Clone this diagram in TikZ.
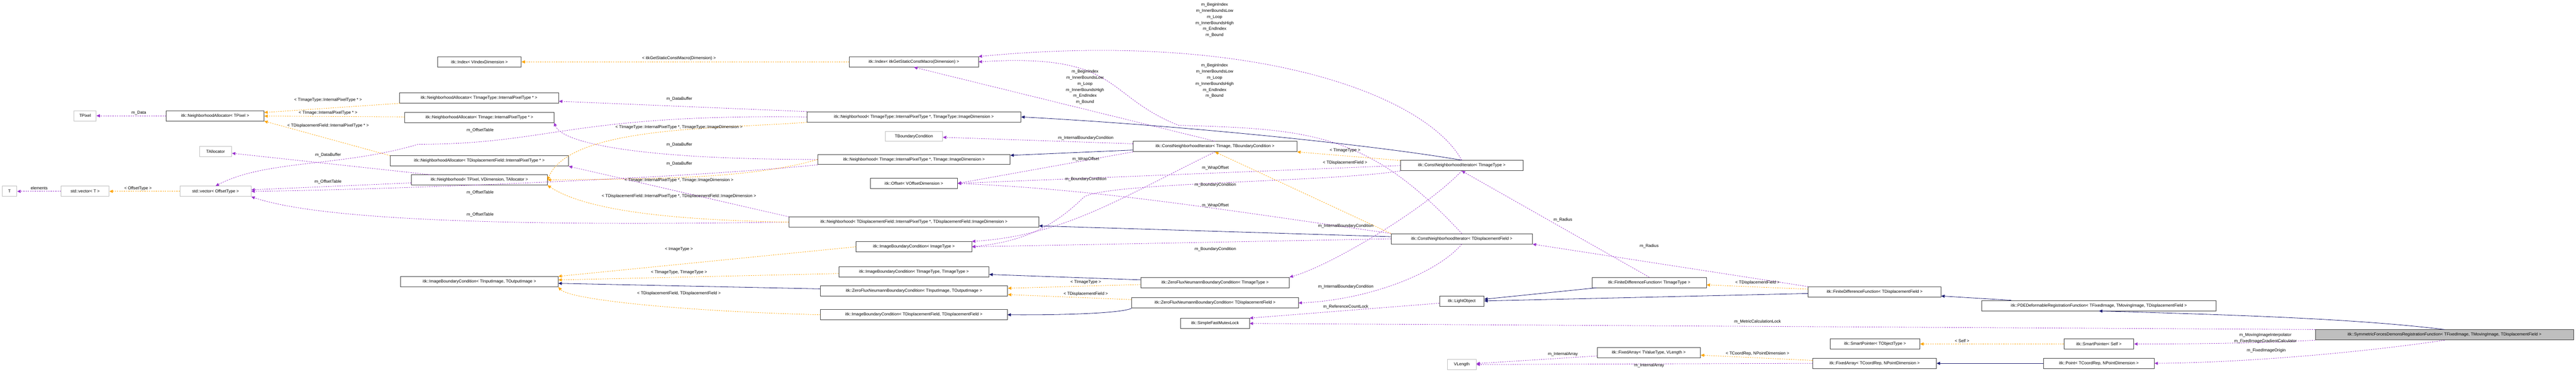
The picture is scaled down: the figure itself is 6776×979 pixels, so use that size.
\documentclass[tikz,border=0pt]{standalone}
\usepackage{fontspec}
\setmainfont{Liberation Sans}
\usetikzlibrary{arrows.meta}
\definecolor{mem}{RGB}{154,50,205}
\definecolor{tpl}{RGB}{255,165,0}
\definecolor{inh}{RGB}{25,25,112}
\begin{document}
\begin{tikzpicture}[x=1pt,y=-1pt,
  font=\fontsize{11}{13}\selectfont,
  box/.style={draw=black!75,line width=1.2pt,fill=white,minimum height=27pt,inner sep=2pt},
  ext/.style={draw=black!25,line width=1.2pt,fill=white,minimum height=27pt,inner sep=2pt},
  main/.style={draw=black!75,line width=1.2pt,fill=black!25,minimum height=27pt,inner sep=2pt},
  mem/.style={draw=mem,dashed,line width=1.1pt,-{Triangle[length=9pt,width=8pt]}},
  tpl/.style={draw=tpl,dashed,line width=1.1pt,-{Triangle[length=9pt,width=8pt]}},
  inh/.style={draw=inh,line width=1.1pt,-{Triangle[length=9pt,width=8pt]}},
  lab/.style={inner sep=0pt,align=center,font=\fontsize{11}{16}\selectfont}]
\useasboundingbox[fill=white] (0,0) rectangle (6776,979);
% nodes
\node[ext,minimum width=58pt] (TPixel) at (224,305) {TPixel};
\node[ext,minimum width=39pt] (T) at (25,504) {T};
\node[ext,minimum width=126pt] (vecT) at (224,504) {std::vector< T >};
\node[ext,minimum width=187pt] (vecO) at (567,504) {std::vector< OffsetType >};
\node[box,minimum width=257pt] (NAT) at (566,305) {itk::NeighborhoodAllocator< TPixel >};
\node[ext,minimum width=85pt] (TAlloc) at (567,399) {TAllocator};
\node[box,minimum width=419pt] (NAimgT) at (1260,258) {itk::NeighborhoodAllocator< TImageType::InternalPixelType * >};
\node[box,minimum width=392pt] (NAimg) at (1261,309) {itk::NeighborhoodAllocator< TImage::InternalPixelType * >};
\node[box,minimum width=469pt] (NAdisp) at (1261,424) {itk::NeighborhoodAllocator< TDisplacementField::InternalPixelType * >};
\node[box,minimum width=357pt] (NBT) at (1261,474) {itk::Neighborhood< TPixel, VDimension, TAllocator >};
\node[box,minimum width=220pt] (IdxV) at (1261,163) {itk::Index< VIndexDimension >};
\node[box,minimum width=414pt] (IBCIO) at (1261,742) {itk::ImageBoundaryCondition< TInputImage, TOutputImage >};
\node[box,minimum width=339pt] (IdxD) at (2404,163) {itk::Index< itkGetStaticConstMacro(Dimension) >};
\node[box,minimum width=563pt] (NBimgT) at (2404,308) {itk::Neighborhood< TImageType::InternalPixelType *, TImageType::ImageDimension >};
\node[ext,minimum width=151pt] (TBC) at (2404,359) {TBoundaryCondition};
\node[box,minimum width=506pt] (NBimg) at (2404,420) {itk::Neighborhood< TImage::InternalPixelType *, TImage::ImageDimension >};
\node[box,minimum width=229pt] (Off) at (2404,483) {itk::Offset< VOffsetDimension >};
\node[box,minimum width=657pt] (NBdisp) at (2404,585) {itk::Neighborhood< TDisplacementField::InternalPixelType *, TDisplacementField::ImageDimension >};
\node[box,minimum width=304pt] (IBCI) at (2404,650) {itk::ImageBoundaryCondition< ImageType >};
\node[box,minimum width=395pt] (IBCTT) at (2404,716) {itk::ImageBoundaryCondition< TImageType, TImageType >};
\node[box,minimum width=493pt] (ZFIO) at (2404,766) {itk::ZeroFluxNeumannBoundaryCondition< TInputImage, TOutputImage >};
\node[box,minimum width=491pt] (IBCDD) at (2404,829) {itk::ImageBoundaryCondition< TDisplacementField, TDisplacementField >};
\node[box,minimum width=431pt] (CNITB) at (3196,386) {itk::ConstNeighborhoodIterator< TImage, TBoundaryCondition >};
\node[box,minimum width=391pt] (ZFTT) at (3196,744) {itk::ZeroFluxNeumannBoundaryCondition< TImageType >};
\node[box,minimum width=438pt] (ZFD) at (3196,798) {itk::ZeroFluxNeumannBoundaryCondition< TDisplacementField >};
\node[box,minimum width=181pt] (Mutex) at (3196,852) {itk::SimpleFastMutexLock};
\node[box,minimum width=322pt] (CNITT) at (3845,436) {itk::ConstNeighborhoodIterator< TImageType >};
\node[box,minimum width=372pt] (CNID) at (3845,629) {itk::ConstNeighborhoodIterator< TDisplacementField >};
\node[box,minimum width=117pt] (LObj) at (3845,794) {itk::LightObject};
\node[ext,minimum width=76pt] (VLen) at (3845,960) {VLength};
\node[box,minimum width=301pt] (FDFT) at (4338,744) {itk::FiniteDifferenceFunction< TImageType >};
\node[box,minimum width=272pt] (FATV) at (4337,929) {itk::FixedArray< TValueType, VLength >};
\node[box,minimum width=349pt] (FDFD) at (4931,769) {itk::FiniteDifferenceFunction< TDisplacementField >};
\node[box,minimum width=236pt] (SPT) at (4932,906) {itk::SmartPointer< TObjectType >};
\node[box,minimum width=325pt] (FACP) at (4931,957) {itk::FixedArray< TCoordRep, NPointDimension >};
\node[box,minimum width=616pt] (PDE) at (5521,805) {itk::PDEDeformableRegistrationFunction< TFixedImage, TMovingImage, TDisplacementField >};
\node[box,minimum width=184pt] (SPS) at (5521,906) {itk::SmartPointer< Self >};
\node[box,minimum width=291pt] (Pt) at (5521,957) {itk::Point< TCoordRep, NPointDimension >};
\node[main,minimum width=679pt] (Sym) at (6430,882) {itk::SymmetricForcesDemonsRegistrationFunction< TFixedImage, TMovingImage, TDisplacementField >};
% member edges
\draw[mem] (vecT) -- (T);
\draw[mem] (NAT) -- (TPixel);
\draw[mem] (NBT) -- (TAlloc);
\draw[mem] (NBimgT.north west) -- (NAimgT);
\draw[mem] (NBimg.west) .. controls (1700,420) and (1480,380) .. (NAimg.south east);
\draw[mem] (NBdisp.north west) -- (NAdisp.south east);
\draw[mem] (NBT) -- (vecO);
\draw[mem] (NBimgT.west) .. controls (1500,300) and (1450,380) .. (1100,380) .. controls (900,440) and (700,420) .. (vecO.north);
\draw[mem] (NBimg.south west) .. controls (1800,470) and (1000,500) .. (vecO.east);
\draw[mem] (NBdisp.west) .. controls (1700,590) and (900,600) .. (vecO.south east);
\draw[mem] (CNITT.north) .. controls (3750,250) and (3300,80) .. (IdxD.north east);
\draw[mem] (CNID.north) .. controls (3600,350) and (3450,340) .. (3100,330) .. controls (2900,250) and (2950,140) .. (IdxD.east);
\draw[mem] (CNITB.north) -- (IdxD.south);
\draw[mem] (CNITB) -- (TBC);
\draw[mem] (CNITB.south west) -- (Off.east);
\draw[mem] (CNITT.west) -- (Off.east);
\draw[mem] (CNID.north west) .. controls (3200,550) and (2900,500) .. (Off.east);
\draw[mem] (CNITB.south) .. controls (2950,520) and (2800,620) .. (IBCI.north east);
\draw[mem] (CNITT.south west) .. controls (3500,480) and (2900,480) .. (2850,520) .. controls (2750,620) and (2650,640) .. (IBCI.east);
\draw[mem] (CNID.west) -- (IBCI.east);
\draw[mem] (CNITT.south) .. controls (3750,550) and (3500,700) .. (ZFTT.north east);
\draw[mem] (CNID.south) .. controls (3780,720) and (3600,790) .. (ZFD.east);
\draw[mem] (FDFT.north) -- (CNITT.south);
\draw[mem] (FDFD.north west) -- (CNID.south east);
\draw[mem] (LObj) -- (Mutex.north east);
\draw[mem] (Sym.north west) -- (Mutex.east);
\draw[mem] (FATV) -- (VLen);
\draw[mem] (FACP.west) -- (VLen.east);
\draw[mem] (Sym.south west) .. controls (5900,906) and (5700,906) .. (SPS.east);
\draw[mem] (Sym.south) .. controls (6200,930) and (5900,955) .. (Pt.east);
% template edges
\draw[tpl] (NAimgT) -- (NAT);
\draw[tpl] (NAimg) -- (NAT);
\draw[tpl] (NAdisp.north west) -- (NAT.south east);
\draw[tpl] (NBimgT.south west) .. controls (1900,340) and (1500,330) .. (NBT.east);
\draw[tpl] (NBimg.west) .. controls (1950,480) and (1600,470) .. (NBT.east);
\draw[tpl] (NBdisp.west) .. controls (1800,580) and (1550,560) .. (NBT.south east);
\draw[tpl] (vecO) -- (vecT);
\draw[tpl] (IdxD) -- (IdxV);
\draw[tpl] (IBCI.west) -- (IBCIO.north east);
\draw[tpl] (IBCTT) -- (IBCIO);
\draw[tpl] (IBCDD.west) .. controls (1800,820) and (1500,790) .. (IBCIO.south east);
\draw[tpl] (ZFTT) -- (ZFIO);
\draw[tpl] (ZFD) -- (ZFIO);
\draw[tpl] (CNITT) -- (CNITB.south east);
\draw[tpl] (CNID.north west) -- (CNITB.south);
\draw[tpl] (FDFD) -- (FDFT);
\draw[tpl] (SPS) -- (SPT);
\draw[tpl] (FACP) -- (FATV);
% inheritance edges
\draw[inh] (CNITT.north) .. controls (3600,380) and (3100,330) .. (NBimgT.east);
\draw[inh] (CNITB) -- (NBimg);
\draw[inh] (CNID) -- (NBdisp);
\draw[inh] (ZFIO) -- (IBCIO);
\draw[inh] (ZFTT) -- (IBCTT);
\draw[inh] (ZFD.south west) .. controls (2950,825) and (2800,830) .. (IBCDD.east);
\draw[inh] (FDFT) -- (LObj);
\draw[inh] (FDFD) -- (LObj);
\draw[inh] (PDE) -- (FDFD);
\draw[inh] (Sym.north) .. controls (6200,840) and (5900,830) .. (PDE.south);
\draw[inh] (Pt) -- (FACP);
% labels
\node[lab] (l1) at (365,297) {m\_Data};
\node[lab] (l2) at (103,496) {elements};
\node[lab] (l3) at (363,496) {< OffsetType >};
\node[lab] (l4) at (863,263) {< TImageType::InternalPixelType * >};
\node[lab] (l5) at (863,298) {< TImage::InternalPixelType * >};
\node[lab] (l6) at (863,331) {< TDisplacementField::InternalPixelType * >};
\node[lab] (l7) at (863,409) {m\_DataBuffer};
\node[lab] (l8) at (863,479) {m\_OffsetTable};
\node[lab] (l9) at (1786,154) {< itkGetStaticConstMacro(Dimension) >};
\node[lab] (l10) at (1787,261) {m\_DataBuffer};
\node[lab] (l11) at (1787,381) {m\_DataBuffer};
\node[lab] (l12) at (1787,431) {m\_DataBuffer};
\node[lab] (l13) at (1263,343) {m\_OffsetTable};
\node[lab] (l14) at (1263,508) {m\_OffsetTable};
\node[lab] (l15) at (1263,565) {m\_OffsetTable};
\node[lab] (l16) at (1786,335) {< TImageType::InternalPixelType *, TImageType::ImageDimension >};
\node[lab] (l17) at (1786,475) {< TImage::InternalPixelType *, TImage::ImageDimension >};
\node[lab] (l18) at (1786,517) {< TDisplacementField::InternalPixelType *, TDisplacementField::ImageDimension >};
\node[lab] (l19) at (1786,657) {< ImageType >};
\node[lab] (l20) at (1786,717) {< TImageType, TImageType >};
\node[lab] (l21) at (1786,773) {< TDisplacementField, TDisplacementField >};
\node[lab] (l22) at (3195,53) {m\_BeginIndex\\m\_InnerBoundsLow\\m\_Loop\\m\_InnerBoundsHigh\\m\_EndIndex\\m\_Bound};
\node[lab] (l23) at (3195,213) {m\_BeginIndex\\m\_InnerBoundsLow\\m\_Loop\\m\_InnerBoundsHigh\\m\_EndIndex\\m\_Bound};
\node[lab] (l24) at (2854,229) {m\_BeginIndex\\m\_InnerBoundsLow\\m\_Loop\\m\_InnerBoundsHigh\\m\_EndIndex\\m\_Bound};
\node[lab] (l25) at (2856,364) {m\_InternalBoundaryCondition};
\node[lab] (l26) at (2856,419) {m\_WrapOffset};
\node[lab] (l27) at (3197,443) {m\_WrapOffset};
\node[lab] (l28) at (3197,541) {m\_WrapOffset};
\node[lab] (l29) at (2856,472) {m\_BoundaryCondition};
\node[lab] (l30) at (3197,487) {m\_BoundaryCondition};
\node[lab] (l31) at (3197,656) {m\_BoundaryCondition};
\node[lab] (l32) at (2856,744) {< TImageType >};
\node[lab] (l33) at (2856,775) {< TDisplacementField >};
\node[lab] (l34) at (3538,396) {< TImageType >};
\node[lab] (l35) at (3538,429) {< TDisplacementField >};
\node[lab] (l36) at (3540,596) {m\_InternalBoundaryCondition};
\node[lab] (l37) at (3540,756) {m\_InternalBoundaryCondition};
\node[lab] (l38) at (4111,579) {m\_Radius};
\node[lab] (l39) at (4338,648) {m\_Radius};
\node[lab] (l40) at (3540,808) {m\_ReferenceCountLock};
\node[lab] (l41) at (4111,933) {m\_InternalArray};
\node[lab] (l42) at (4338,963) {m\_InternalArray};
\node[lab] (l43) at (4623,744) {< TDisplacementField >};
\node[lab] (l44) at (4623,848) {m\_MetricCalculationLock};
\node[lab] (l45) at (5161,898) {< Self >};
\node[lab] (l46) at (4623,931) {< TCoordRep, NPointDimension >};
\node[lab] (l47) at (5959,891) {m\_MovingImageInterpolator\\m\_FixedImageGradientCalculator};
\node[lab] (l48) at (5961,924) {m\_FixedImageOrigin};
\end{tikzpicture}
\end{document}
